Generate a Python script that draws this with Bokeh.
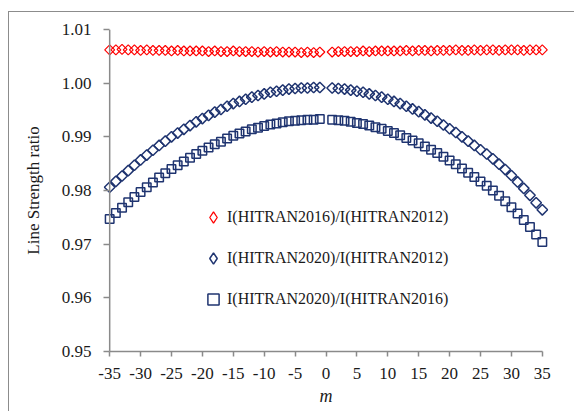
import math
from bokeh.plotting import figure
from bokeh.models import Range1d, Legend, LegendItem, FixedTicker, Span
from bokeh.embed import file_html
from bokeh.resources import INLINE

# ---- data ----
m_left = list(range(-35, 0))
m_right = list(range(1, 36))

r16_12_left = [1.0062, 1.0062, 1.0063, 1.0062, 1.0062, 1.0061, 1.0062, 1.0061, 1.0061, 1.0061,
               1.0060, 1.0061, 1.0060, 1.0060, 1.0060, 1.0060, 1.0059, 1.0060, 1.0059, 1.0059,
               1.0060, 1.0059, 1.0059, 1.0059, 1.0058, 1.0059, 1.0058, 1.0059, 1.0058, 1.0058,
               1.0058, 1.0057, 1.0058, 1.0057, 1.0058]
r16_12_right = [1.0058, 1.0059, 1.0059, 1.0059, 1.0059, 1.0060, 1.0059, 1.0060, 1.0060, 1.0060,
                1.0060, 1.0060, 1.0061, 1.0060, 1.0061, 1.0061, 1.0060, 1.0061, 1.0061, 1.0061,
                1.0062, 1.0061, 1.0061, 1.0062, 1.0061, 1.0062, 1.0062, 1.0061, 1.0062, 1.0062,
                1.0062, 1.0061, 1.0062, 1.0062, 1.0062]

r20_12_left = [0.9806, 0.9817, 0.9827, 0.9837, 0.9847, 0.9857, 0.9866, 0.9875, 0.9884, 0.9892,
               0.9900, 0.9907, 0.9914, 0.9921, 0.9928, 0.9934,
               0.9940, 0.9946, 0.9951, 0.9957, 0.9962,
               0.9966, 0.9970, 0.9974, 0.9977, 0.9980,
               0.9983, 0.9985, 0.9987, 0.9989, 0.9990,
               0.9991, 0.9991, 0.9992, 0.9992]
r20_12_right = [0.9991, 0.9990, 0.9989, 0.9987, 0.9985, 0.9983, 0.9980, 0.9977, 0.9974, 0.9970,
                0.9966, 0.9962, 0.9957, 0.9952, 0.9947, 0.9941, 0.9935, 0.9929, 0.9922, 0.9915,
                0.9908, 0.9900, 0.9892, 0.9884, 0.9876, 0.9868, 0.9859, 0.9849, 0.9839, 0.9828,
                0.9816, 0.9804, 0.9791, 0.9777, 0.9764]

r20_16_left = [0.9747, 0.9758, 0.9768, 0.9778, 0.9788, 0.9797, 0.9806, 0.9815, 0.9824, 0.9832,
               0.9840, 0.9847, 0.9854, 0.9861, 0.9868, 0.9874,
               0.9880, 0.9886, 0.9891, 0.9897, 0.9902,
               0.9906, 0.9910, 0.9914, 0.9917, 0.9920,
               0.9923, 0.9925, 0.9927, 0.9929, 0.9930,
               0.9931, 0.9932, 0.9932, 0.9933]
r20_16_right = [0.9932, 0.9931, 0.9930, 0.9928, 0.9926, 0.9924, 0.9921, 0.9918, 0.9915, 0.9911,
                0.9907, 0.9903, 0.9898, 0.9893, 0.9888, 0.9882, 0.9876, 0.9870, 0.9863, 0.9856,
                0.9849, 0.9841, 0.9833, 0.9825, 0.9817, 0.9809, 0.9800, 0.9790, 0.9780, 0.9769,
                0.9757, 0.9745, 0.9732, 0.9718, 0.9704]

x_ticks = [-35, -30, -25, -20, -15, -10, -5, 0, 5, 10, 15, 20, 25, 30, 35]
y_ticks = [0.95, 0.96, 0.97, 0.98, 0.99, 1.00, 1.01]
x_min, x_max = -35, 35
y_min, y_max = 0.95, 1.01

labels = ["I(HITRAN2016)/I(HITRAN2012)",
          "I(HITRAN2020)/I(HITRAN2012)",
          "I(HITRAN2020)/I(HITRAN2016)"]

m_all = m_left + m_right
s1 = r16_12_left + r16_12_right
s2 = r20_12_left + r20_12_right
s3 = r20_16_left + r20_16_right

RED = "#ff0000"
NAVY = "#1f3470"
AXC = "#8a8a8a"
TXT = "#1a1a1a"
SERIF = "Liberation Serif"

p = figure(width=566, height=400, output_backend="svg", toolbar_location=None,
           x_range=Range1d(x_min - 1, x_max + 1), y_range=Range1d(y_min, y_max),
           min_border_left=94, min_border_right=27, min_border_top=17, min_border_bottom=61)
# chart-area border: top and left edges
p.styles = {"border-top": "1px solid #8c8c8c", "border-left": "1px solid #8c8c8c",
            "margin-left": "8px", "margin-top": "11px"}
p.outline_line_color = None
p.grid.visible = False
p.background_fill_color = "white"
p.border_fill_color = "white"

g1 = p.scatter(m_all, s1, marker="square", size=7, angle=math.pi / 4,
               fill_color=None, line_color=RED, line_width=1.2)
g2 = p.scatter(m_all, s2, marker="square", size=7.5, angle=math.pi / 4,
               fill_color=None, line_color=NAVY, line_width=1.5)
g3 = p.scatter(m_all, s3, marker="square", size=8.5,
               fill_color=None, line_color=NAVY, line_width=1.5)

# hidden renderers used only for the legend glyphs (legend draws markers unrotated)
l1 = p.scatter(m_all, s1, marker="diamond", fill_color=None, line_color=RED,
               line_width=1.3, visible=False)
l2 = p.scatter(m_all, s2, marker="diamond", fill_color=None, line_color=NAVY,
               line_width=1.5, visible=False)
l3 = p.scatter(m_all, s3, marker="square", fill_color=None, line_color=NAVY,
               line_width=1.5, visible=False)

for ax in (p.xaxis[0], p.yaxis[0]):
    ax.axis_line_color = AXC
    ax.axis_line_width = 1.5
    ax.major_tick_line_color = AXC
    ax.major_tick_line_width = 1.5
    ax.minor_tick_line_color = None
    ax.major_label_text_font = SERIF
    ax.major_label_text_font_size = "17px"
    ax.major_label_text_color = TXT
    ax.axis_label_text_font = SERIF
    ax.axis_label_text_color = TXT

p.xaxis[0].bounds = (x_min, x_max)
p.xaxis[0].major_tick_in = 0
p.xaxis[0].major_tick_out = 5
p.yaxis[0].axis_line_color = None
p.yaxis[0].major_tick_in = 6
p.yaxis[0].major_tick_out = 0
p.add_layout(Span(location=x_min, dimension="height", line_color=AXC, line_width=1.5))

p.xaxis.ticker = FixedTicker(ticks=x_ticks)
p.yaxis.ticker = FixedTicker(ticks=y_ticks)
p.xaxis.major_label_overrides = {t: str(t) for t in x_ticks}
p.yaxis.major_label_overrides = {t: f"{t:.2f}" for t in y_ticks}
p.xaxis.major_label_standoff = 11
p.yaxis.major_label_standoff = 12

p.xaxis.axis_label = "m"
p.xaxis.axis_label_text_font_style = "italic"
p.xaxis.axis_label_text_font_size = "18px"
p.xaxis.axis_label_standoff = 4
p.yaxis.axis_label = "Line Strength ratio"
p.yaxis.axis_label_text_font_style = "normal"
p.yaxis.axis_label_text_font_size = "17px"
p.yaxis.axis_label_standoff = 16

legend = Legend(items=[LegendItem(label=labels[0], renderers=[l1]),
                       LegendItem(label=labels[1], renderers=[l2]),
                       LegendItem(label=labels[2], renderers=[l3])],
                location=(96, 38), padding=0, margin=0, spacing=13,
                glyph_width=28, glyph_height=28, label_height=28,
                label_standoff=0, border_line_color=None,
                background_fill_alpha=0, inactive_fill_alpha=0,
                label_text_font=SERIF, label_text_font_size="16px",
                label_text_color=TXT)
p.add_layout(legend)

open("out.html", "w").write(file_html(p, INLINE))
